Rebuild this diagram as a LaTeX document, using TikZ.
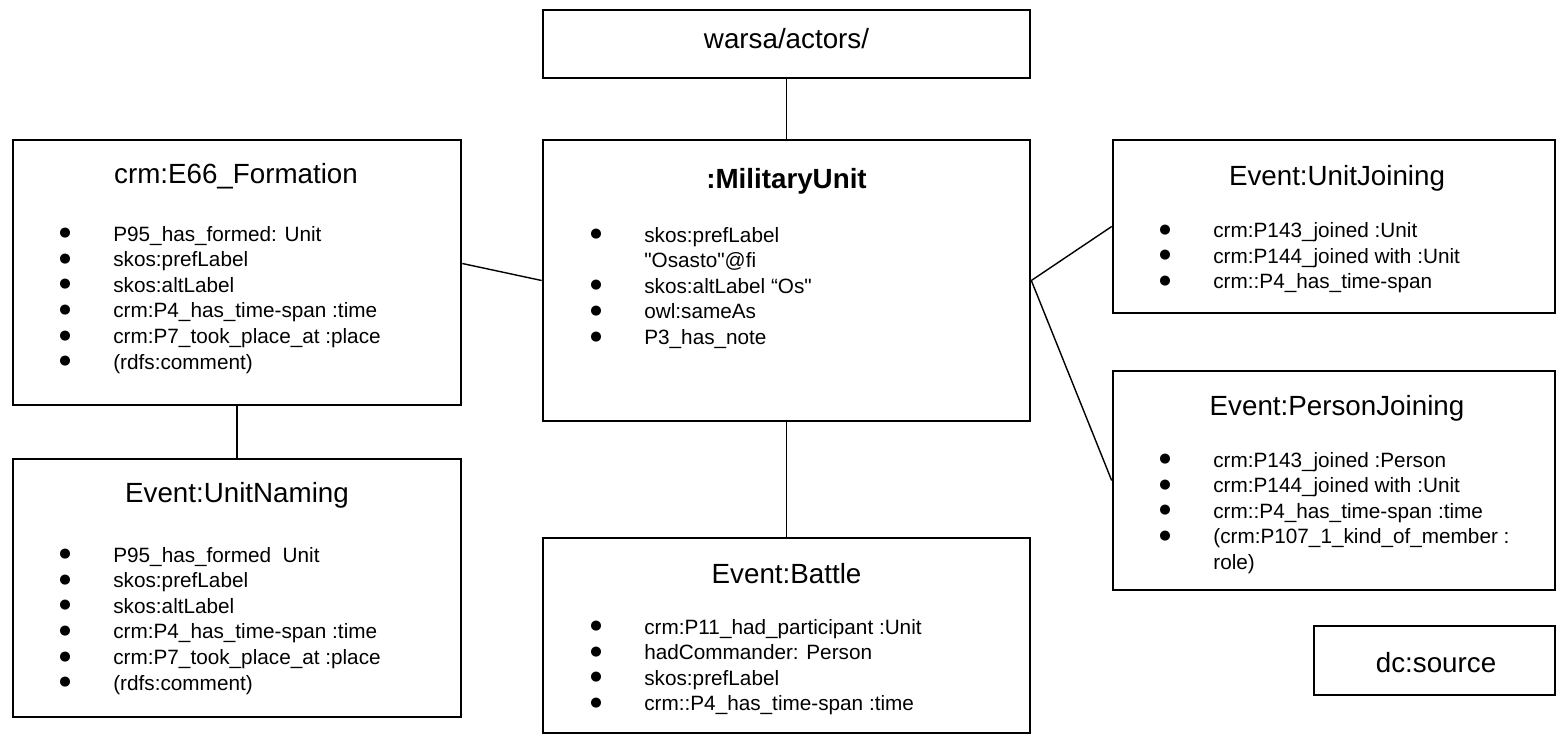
\documentclass[tikz,border=0pt]{standalone}
\usepackage{fontspec}
\setmainfont{Liberation Sans}
\newfontfamily\qfont{Liberation Sans}
\newfontfamily\bulfont{DejaVu Sans}
\usepackage{array}
\newcommand{\pxu}{0.02cm}
\newcommand{\sq}{{\qfont"}}
\newcommand{\bl}{\raisebox{2.5pt}{\bulfont\fontsize{7.5}{7.5}\selectfont ●}}
\newcommand{\plst}[1]{\begin{tabular}[t]{@{}p{1.08cm}@{}l@{}}#1\end{tabular}}
\tikzset{
	objbox/.style={rectangle,draw=black,line width=1.5pt,inner sep=0pt},
	ttl/.style={inner sep=0pt,anchor=base,font=\fontsize{15.8}{18}\selectfont},
	plist/.style={inner sep=0pt,anchor=base west,font=\fontsize{11.8}{14.6}\selectfont},
	link/.style={line width=0.8pt}}

\begin{document}
\begin{tikzpicture}[x=\pxu,y=-\pxu]
	\useasboundingbox (0,0) rectangle (1557,735);
	% boxes
	\node (warsa) at (786.5,44) [objbox,minimum width=487*\pxu,minimum height=68*\pxu] {};
	\node (mu) at (786.5,280.5) [objbox,minimum width=487*\pxu,minimum height=281*\pxu] {};
	\node (form) at (237,272.5) [objbox,minimum width=448*\pxu,minimum height=265*\pxu] {};
	\node (unam) at (237,588) [objbox,minimum width=448*\pxu,minimum height=258*\pxu] {};
	\node (battle) at (786.5,635.5) [objbox,minimum width=487*\pxu,minimum height=195*\pxu] {};
	\node (ujoin) at (1334,226.5) [objbox,minimum width=442*\pxu,minimum height=173*\pxu] {};
	\node (pjoin) at (1334,480.5) [objbox,minimum width=442*\pxu,minimum height=219*\pxu] {};
	\node (dcsrc) at (1434.5,660.5) [objbox,minimum width=241*\pxu,minimum height=69*\pxu] {};
	% titles
	\node (warsaT) at (786.5,48) [ttl] {warsa/actors/};
	\node (muT) at (786.5,188) [ttl,font=\fontsize{15.8}{18}\selectfont\bfseries] {:MilitaryUnit};
	\node (formT) at (236,183) [ttl] {crm:E66\_Formation};
	\node (unamT) at (237,502) [ttl] {Event:UnitNaming};
	\node (battleT) at (786.5,583) [ttl] {Event:Battle};
	\node (ujoinT) at (1337,185) [ttl] {Event:UnitJoining};
	\node (pjoinT) at (1337,415) [ttl] {Event:PersonJoining};
	\node (dcsrcT) at (1436,672) [ttl] {dc:source};
	% property lists
	\node (formL) at (59,241) [plist] {\plst{\bl & P95\_has\_formed: Unit\\ \bl & skos:prefLabel\\ \bl & skos:altLabel\\ \bl & crm:P4\_has\_time-span :time\\ \bl & crm:P7\_took\_place\_at :place\\ \bl & (rdfs:comment)}};
	\node (unamL) at (59,562) [plist] {\plst{\bl & P95\_has\_formed~ Unit\\ \bl & skos:prefLabel\\ \bl & skos:altLabel\\ \bl & crm:P4\_has\_time-span :time\\ \bl & crm:P7\_took\_place\_at :place\\ \bl & (rdfs:comment)}};
	\node (muL) at (590,242) [plist] {\plst{\bl & skos:prefLabel\\ & \sq Osasto\sq @fi\\ \bl & skos:altLabel \textquotedblleft Os\sq\\ \bl & owl:sameAs\\ \bl & P3\_has\_note}};
	\node (battleL) at (590,634) [plist] {\plst{\bl & crm:P11\_had\_participant :Unit\\ \bl & hadCommander: Person\\ \bl & skos:prefLabel\\ \bl & crm::P4\_has\_time-span :time}};
	\node (ujoinL) at (1159,237.5) [plist] {\plst{\bl & crm:P143\_joined :Unit\\ \bl & crm:P144\_joined with :Unit\\ \bl & crm::P4\_has\_time-span}};
	\node (pjoinL) at (1159,467) [plist] {\plst{\bl & crm:P143\_joined :Person\\ \bl & crm:P144\_joined with :Unit\\ \bl & crm::P4\_has\_time-span :time\\ \bl & (crm:P107\_1\_kind\_of\_member :\\ & role)}};
	% links
	\draw[link] (warsa.south) -- (mu.north);
	\draw[link] (mu.south) -- (battle.north);
	\draw[link] (form.south) -- (unam.north);
	\draw[link] ([yshift=0.18cm]form.east) -- (mu.west);
	\draw[link] (mu.east) -- (ujoin.west);
	\draw[link] (mu.east) -- (pjoin.west);
\end{tikzpicture}
\end{document}
